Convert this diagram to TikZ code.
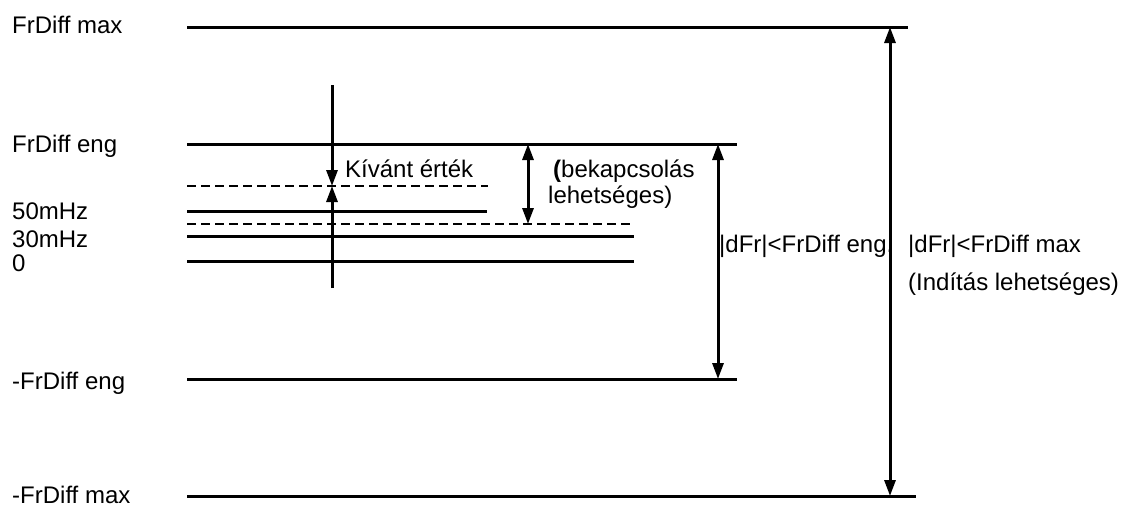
\documentclass[tikz,border=0pt]{standalone}
\usepackage{fontspec}
\setmainfont{Liberation Sans}
\usetikzlibrary{arrows.meta}
\begin{document}
\begin{tikzpicture}[x=1pt,y=-1pt,
  lvl/.style={line width=3pt},
  dsh/.style={line width=1.2pt,dash pattern=on 9pt off 5pt},
  arr/.style={line width=3pt,-{Triangle[length=16pt,width=11pt]}},
  darr/.style={line width=3pt,{Triangle[length=16pt,width=11pt]}-{Triangle[length=16pt,width=11pt]}},
  lab/.style={anchor=base west,inner sep=0pt,font=\fontsize{24}{28}\selectfont}]
\useasboundingbox (0,0) rectangle (1122,507);
% level lines
\coordinate (maxL) at (187,27);  \coordinate (maxR) at (908,27);
\coordinate (engL) at (187,144); \coordinate (engR) at (737,144);
\coordinate (kvL) at (187,186);  \coordinate (kvR) at (488,186);
\coordinate (m50L) at (187,211); \coordinate (m50R) at (487,211);
\coordinate (d2L) at (187,224);  \coordinate (d2R) at (634,224);
\coordinate (m30L) at (187,236); \coordinate (m30R) at (634,236);
\coordinate (zL) at (187,261);   \coordinate (zR) at (634,261);
\coordinate (nengL) at (187,379);\coordinate (nengR) at (737,379);
\coordinate (nmaxL) at (187,496);\coordinate (nmaxR) at (916,496);
\draw[lvl] (maxL) -- (maxR);
\draw[lvl] (engL) -- (engR);
\draw[dsh] (kvL) -- (kvR);
\draw[lvl] (m50L) -- (m50R);
\draw[dsh] (d2L) -- (d2R);
\draw[lvl] (m30L) -- (m30R);
\draw[lvl] (zL) -- (zR);
\draw[lvl] (nengL) -- (nengR);
\draw[lvl] (nmaxL) -- (nmaxR);
% target arrows
\coordinate (vt) at (332,85);
\coordinate (vm) at (332,186);
\coordinate (vb) at (332,288);
\draw[arr] (vt) -- (vm);
\draw[arr] (vb) -- (vm);
% double arrows
\coordinate (a1t) at (528,144); \coordinate (a1b) at (528,224);
\draw[darr] (a1t) -- (a1b);
\coordinate (a2t) at (718,144); \coordinate (a2b) at (718,379);
\draw[darr] (a2t) -- (a2b);
\coordinate (a3t) at (890,27); \coordinate (a3b) at (890,496);
\draw[darr] (a3t) -- (a3b);
% labels
\node[lab] (tmax) at (12,33) {FrDiff max};
\node[lab] (teng) at (12,152) {FrDiff eng};
\node[lab] (t50) at (12,219) {50mHz};
\node[lab] (t30) at (12,247) {30mHz};
\node[lab] (t0) at (12,271) {0};
\node[lab] (tneng) at (12,389) {-FrDiff eng};
\node[lab] (tnmax) at (12,503) {-FrDiff max};
\node[lab] (tkv) at (345,177) {Kívánt érték};
\node[lab] (tb1) at (553,177) {\textbf{(}bekapcsolás};
\node[lab] (tb2) at (548,203) {lehetséges)};
\node[lab] (tde) at (719,252) {|dFr|<FrDiff eng.};
\node[lab] (tdm) at (908,252) {|dFr|<FrDiff max};
\node[lab] (tind) at (908,290) {(Indítás lehetséges)};
\end{tikzpicture}
\end{document}
